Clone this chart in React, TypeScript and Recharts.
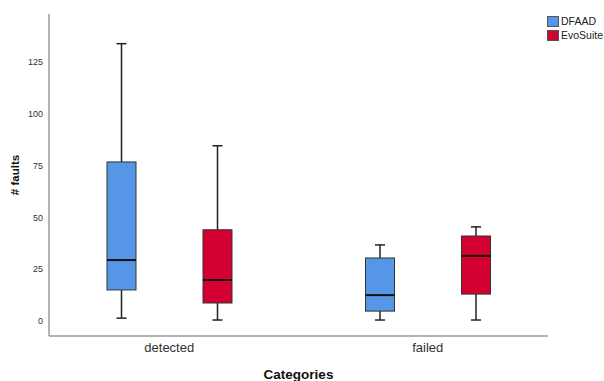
import React from 'react';
import { ComposedChart, Bar, XAxis, YAxis, Legend } from 'recharts';

const categories = ['detected', 'failed'];
const dfaadMin = [1.4, 0.5];
const dfaadQ1 = [15, 4.8];
const dfaadMedian = [29.4, 12.5];
const dfaadQ3 = [76.7, 30.4];
const dfaadMax = [133.7, 36.7];
const evoMin = [0.5, 0.5];
const evoQ1 = [8.7, 13];
const evoMedian = [19.8, 31.4];
const evoQ3 = [44, 41];
const evoMax = [84.5, 45.4];
const yTicks = [0, 25, 50, 75, 100, 125];
const seriesNames = ['DFAAD', 'EvoSuite'];
const seriesColors = ['#5596E6', '#D50032'];

const data = categories.map((c, i) => ({
  category: c,
  d: { min: dfaadMin[i], q1: dfaadQ1[i], med: dfaadMedian[i], q3: dfaadQ3[i], max: dfaadMax[i] },
  e: { min: evoMin[i], q1: evoQ1[i], med: evoMedian[i], q3: evoQ3[i], max: evoMax[i] },
}));

const FONT = '"Liberation Sans", Arial, sans-serif';

const makeBoxShape = (key: string) => (props: any) => {
  const { x, y, width, height, payload, fill } = props;
  const s = payload[key];
  const top = Math.min(y, y + height);
  const h = Math.abs(height);
  const pix = (v: number) => top + ((s.max - v) / (s.max - s.min)) * h;
  const cx = x + width / 2;
  const capHalf = 5;
  const yMax = pix(s.max);
  const yMin = pix(s.min);
  const yQ1 = pix(s.q1);
  const yQ3 = pix(s.q3);
  const yMed = pix(s.med);
  return (
    <g>
      <line x1={cx} x2={cx} y1={yMax} y2={yQ3} stroke="#222" strokeWidth={1.5} />
      <line x1={cx} x2={cx} y1={yQ1} y2={yMin} stroke="#222" strokeWidth={1.5} />
      <line x1={cx - capHalf} x2={cx + capHalf} y1={yMax} y2={yMax} stroke="#222" strokeWidth={1.5} />
      <line x1={cx - capHalf} x2={cx + capHalf} y1={yMin} y2={yMin} stroke="#222" strokeWidth={1.5} />
      <rect x={x} y={yQ3} width={width} height={yQ1 - yQ3} fill={fill} stroke="#333" strokeWidth={1} />
      <line x1={x} x2={x + width} y1={yMed} y2={yMed} stroke="#111" strokeWidth={2} />
    </g>
  );
};

const LegendContent = () => (
  <div style={{ fontFamily: FONT, fontSize: 10.5, color: '#222', whiteSpace: 'nowrap' }}>
    {seriesNames.map((n, i) => (
      <div key={n} style={{ display: 'flex', alignItems: 'center', height: 14 }}>
        <span
          style={{
            display: 'inline-block',
            width: 10,
            height: 9,
            background: seriesColors[i],
            border: '1px solid #555',
            marginRight: 2,
            flexShrink: 0,
          }}
        />
        <span>{n}</span>
      </div>
    ))}
  </div>
);

export default function App() {
  return (
    <div style={{ position: 'absolute', left: 0, top: 0, width: 604, height: 381, background: '#fff', overflow: 'hidden' }}>
      <ComposedChart
        width={604}
        height={381}
        data={data}
        margin={{ top: 14, right: 56, bottom: 0, left: 0 }}
        barGap={67}
      >
        <XAxis
          dataKey="category"
          type="category"
          padding={{ left: -9, right: -9 }}
          height={45}
          tickLine={false}
          tickSize={0}
          tickMargin={7}
          axisLine={{ stroke: '#9a9a9a', strokeWidth: 1.5 }}
          tick={{ fill: '#333', fontSize: 13, fontFamily: FONT }}
          label={{
            value: 'Categories',
            position: 'insideBottom',
            offset: 2,
            style: { fill: '#111', fontSize: 13.5, fontWeight: 'bold', fontFamily: FONT },
          }}
        />
        <YAxis
          type="number"
          domain={[-7.2, 148]}
          ticks={yTicks}
          width={49}
          tickLine={false}
          tickSize={4}
          tickMargin={2}
          axisLine={{ stroke: '#9a9a9a', strokeWidth: 1.5 }}
          tick={{ fill: '#333', fontSize: 9, fontFamily: FONT }}
          label={{
            value: '# faults',
            angle: -90,
            position: 'insideLeft',
            offset: 15,
            style: { fill: '#111', fontSize: 11.5, fontWeight: 'bold', fontFamily: FONT, textAnchor: 'middle' },
          }}
        />
        <Legend
          layout="vertical"
          verticalAlign="middle"
          align="center"
          content={<LegendContent />}
          wrapperStyle={{ position: 'absolute', top: 14, left: 547, width: 57 }}
        />
        <Bar
          name={seriesNames[0]}
          dataKey={(d: any) => [d.d.min, d.d.max]}
          fill={seriesColors[0]}
          barSize={29}
          shape={makeBoxShape('d')}
          isAnimationActive={false}
        />
        <Bar
          name={seriesNames[1]}
          dataKey={(d: any) => [d.e.min, d.e.max]}
          fill={seriesColors[1]}
          barSize={29}
          shape={makeBoxShape('e')}
          isAnimationActive={false}
        />
      </ComposedChart>
    </div>
  );
}
